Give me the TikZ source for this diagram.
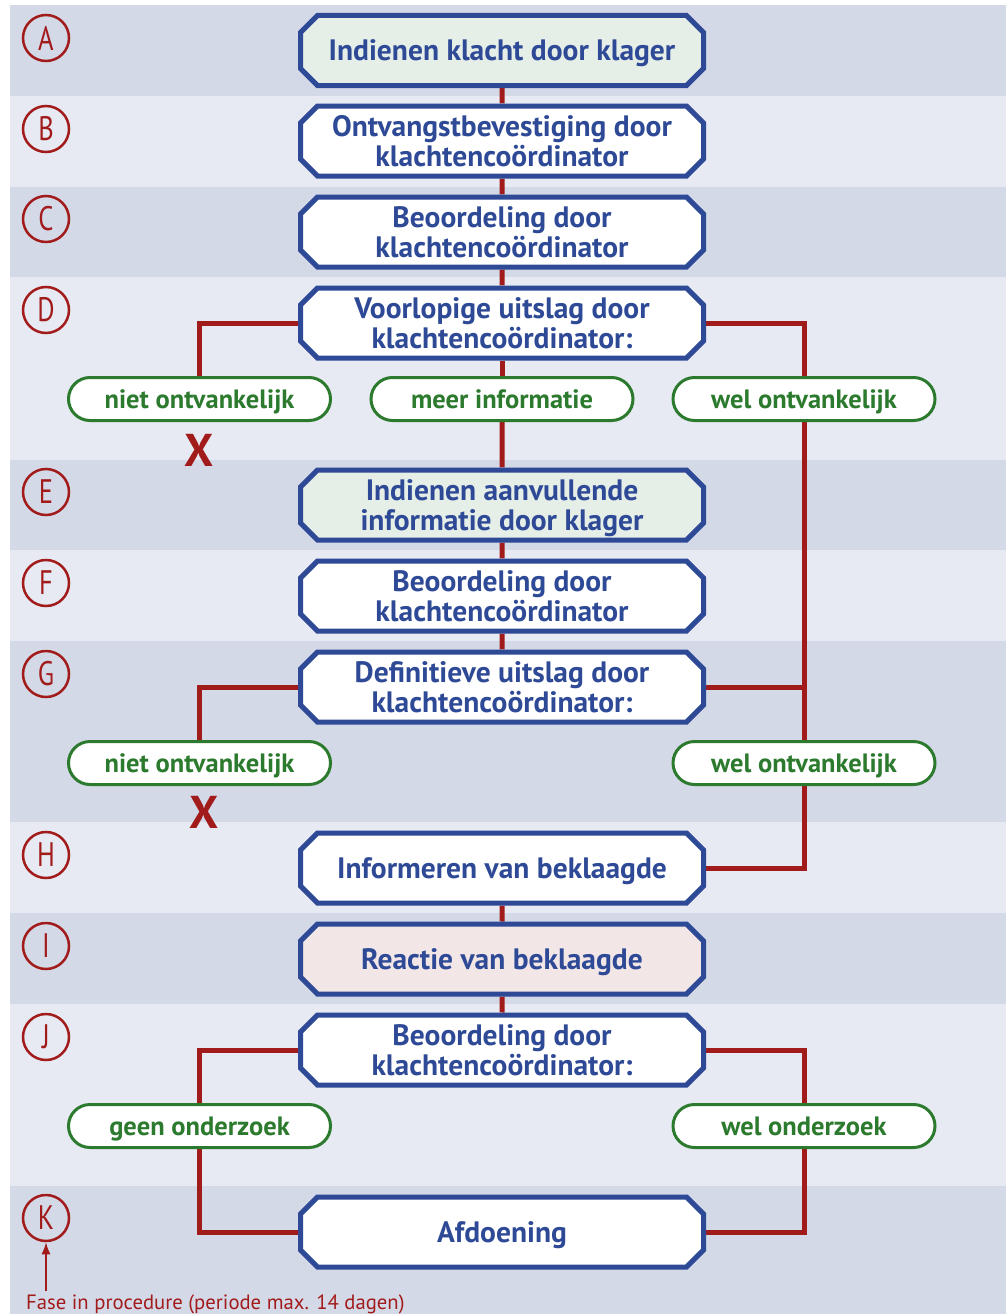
\documentclass[tikz,border=0pt]{standalone}
\usepackage{fontspec}
\setmainfont{PT Sans}
\usetikzlibrary{shapes.misc,arrows.meta}
\definecolor{BandDarkClr}{RGB}{212,217,232}
\definecolor{BandLightClr}{RGB}{231,234,243}
\definecolor{BoxClr}{RGB}{46,74,150}
\definecolor{LineClr}{RGB}{162,27,27}
\definecolor{PillClr}{RGB}{44,122,46}
\definecolor{KlagerClr}{RGB}{230,238,232}
\definecolor{BeklaagdeClr}{RGB}{243,230,230}
\pgfdeclarelayer{bands}
\pgfdeclarelayer{lijnen}
\pgfsetlayers{bands,lijnen,main}

\begin{document}
\begin{tikzpicture}[x=1pt,y=-1pt,
  stap/.style={chamfered rectangle,chamfered rectangle xsep=8.5pt,chamfered rectangle ysep=8.5pt,
    draw=BoxClr,line width=5pt,fill=white,minimum width=403pt,minimum height=70pt,
    inner sep=0pt,text depth=0pt,align=center,text=BoxClr,font=\bfseries\fontsize{29.5}{30}\selectfont},
  keuze/.style={rounded rectangle,draw=PillClr,line width=3pt,fill=white,
    minimum width=262pt,minimum height=43pt,inner sep=0pt,text depth=0pt,text=PillClr,
    font=\bfseries\fontsize{26.5}{28}\selectfont},
  fase/.style={circle,draw=LineClr,line width=2.5pt,minimum size=46pt,inner sep=0pt,
    text=LineClr,font=\fontsize{34}{34}\selectfont},
  lijn/.style={draw=LineClr,line width=5pt},
  weg/.style={text=LineClr,inner sep=0pt,font=\bfseries\fontsize{46}{46}\selectfont}]

\useasboundingbox (0,0) rectangle (1006,1314);

\begin{pgfonlayer}{bands}
\foreach \boven/\onder/\clr in {5/96/BandDarkClr,96/187/BandLightClr,187/277/BandDarkClr,
  277/460/BandLightClr,460/550/BandDarkClr,550/641/BandLightClr,641/822/BandDarkClr,
  822/913/BandLightClr,913/1004/BandDarkClr,1004/1186/BandLightClr,1186/1314/BandDarkClr}
  \fill[\clr] (10,\boven) rectangle (1006,\onder);
\end{pgfonlayer}

\foreach \lbl/\yy in {A/38,B/129,C/219,D/310,E/492,F/583,G/674,H/855,I/946,J/1037,K/1218}
  \node[fase] (fase\lbl) at (46,\yy) {\scalebox{0.78}[1]{\lbl}};

\node[stap,fill=KlagerClr] (stapA) at (502,50.5) {Indienen klacht door klager};
\node[stap] (stapB) at (502,141) {Ontvangstbevestiging door\\klachtencoördinator};
\node[stap] (stapC) at (502,232) {Beoordeling door\\klachtencoördinator};
\node[stap] (stapD) at (502,323) {Voorlopige uitslag door\\klachtencoördinator:};
\node[stap,fill=KlagerClr] (stapE) at (502,505) {Indienen aanvullende\\informatie door klager};
\node[stap] (stapF) at (502,596) {Beoordeling door\\klachtencoördinator};
\node[stap] (stapG) at (502,687) {Definitieve uitslag door\\klachtencoördinator:};
\node[stap] (stapH) at (502,868) {Informeren van beklaagde};
\node[stap,fill=BeklaagdeClr] (stapI) at (502,959) {Reactie van beklaagde};
\node[stap] (stapJ) at (502,1050) {Beoordeling door\\klachtencoördinator:};
\node[stap] (stapK) at (502,1232) {Afdoening};

\node[keuze] (nietD) at (199.5,399) {niet ontvankelijk};
\node[keuze] (meerD) at (502,399) {meer informatie};
\node[keuze] (welD) at (804,399) {wel ontvankelijk};
\node[keuze] (nietG) at (199.5,763) {niet ontvankelijk};
\node[keuze] (welG) at (804,763) {wel ontvankelijk};
\node[keuze] (geenJ) at (199.5,1126) {geen onderzoek};
\node[keuze] (welJ) at (804,1126) {wel onderzoek};

\node[weg] (stopD) at (199,450) {X};
\node[weg] (stopG) at (204,812) {X};

\begin{pgfonlayer}{lijnen}
\draw[lijn] (stapA) -- (stapB);
\draw[lijn] (stapB) -- (stapC);
\draw[lijn] (stapC) -- (stapD);
\draw[lijn] (stapD) -- (meerD);
\draw[lijn] (meerD) -- (stapE);
\draw[lijn] (stapE) -- (stapF);
\draw[lijn] (stapF) -- (stapG);
\draw[lijn] (stapH) -- (stapI);
\draw[lijn] (stapI) -- (stapJ);
\draw[lijn] (stapD.west) -| (nietD);
\draw[lijn] (stapD.east) -| (welD);
\draw[lijn] (welD) -- (welG);
\draw[lijn] (stapG.east) -- (stapG.east -| welG);
\draw[lijn] (stapG.west) -| (nietG);
\draw[lijn] (welG) |- (stapH.east);
\draw[lijn] (stapJ.west) -| (geenJ);
\draw[lijn] (stapJ.east) -| (welJ);
\draw[lijn] (geenJ) |- (stapK.west);
\draw[lijn] (welJ) |- (stapK.east);
\end{pgfonlayer}

\node[anchor=base west,inner sep=0pt,text=LineClr,font=\fontsize{20.7}{21}\selectfont] (legenda) at (26,1309) {Fase in procedure (periode max. 14 dagen)};
\coordinate (pijlvoet) at (46,1291);
\draw[LineClr,line width=1.5pt,-{Latex[length=12pt,width=9pt]}] (pijlvoet) -- (faseK.south);

\end{tikzpicture}
\end{document}
